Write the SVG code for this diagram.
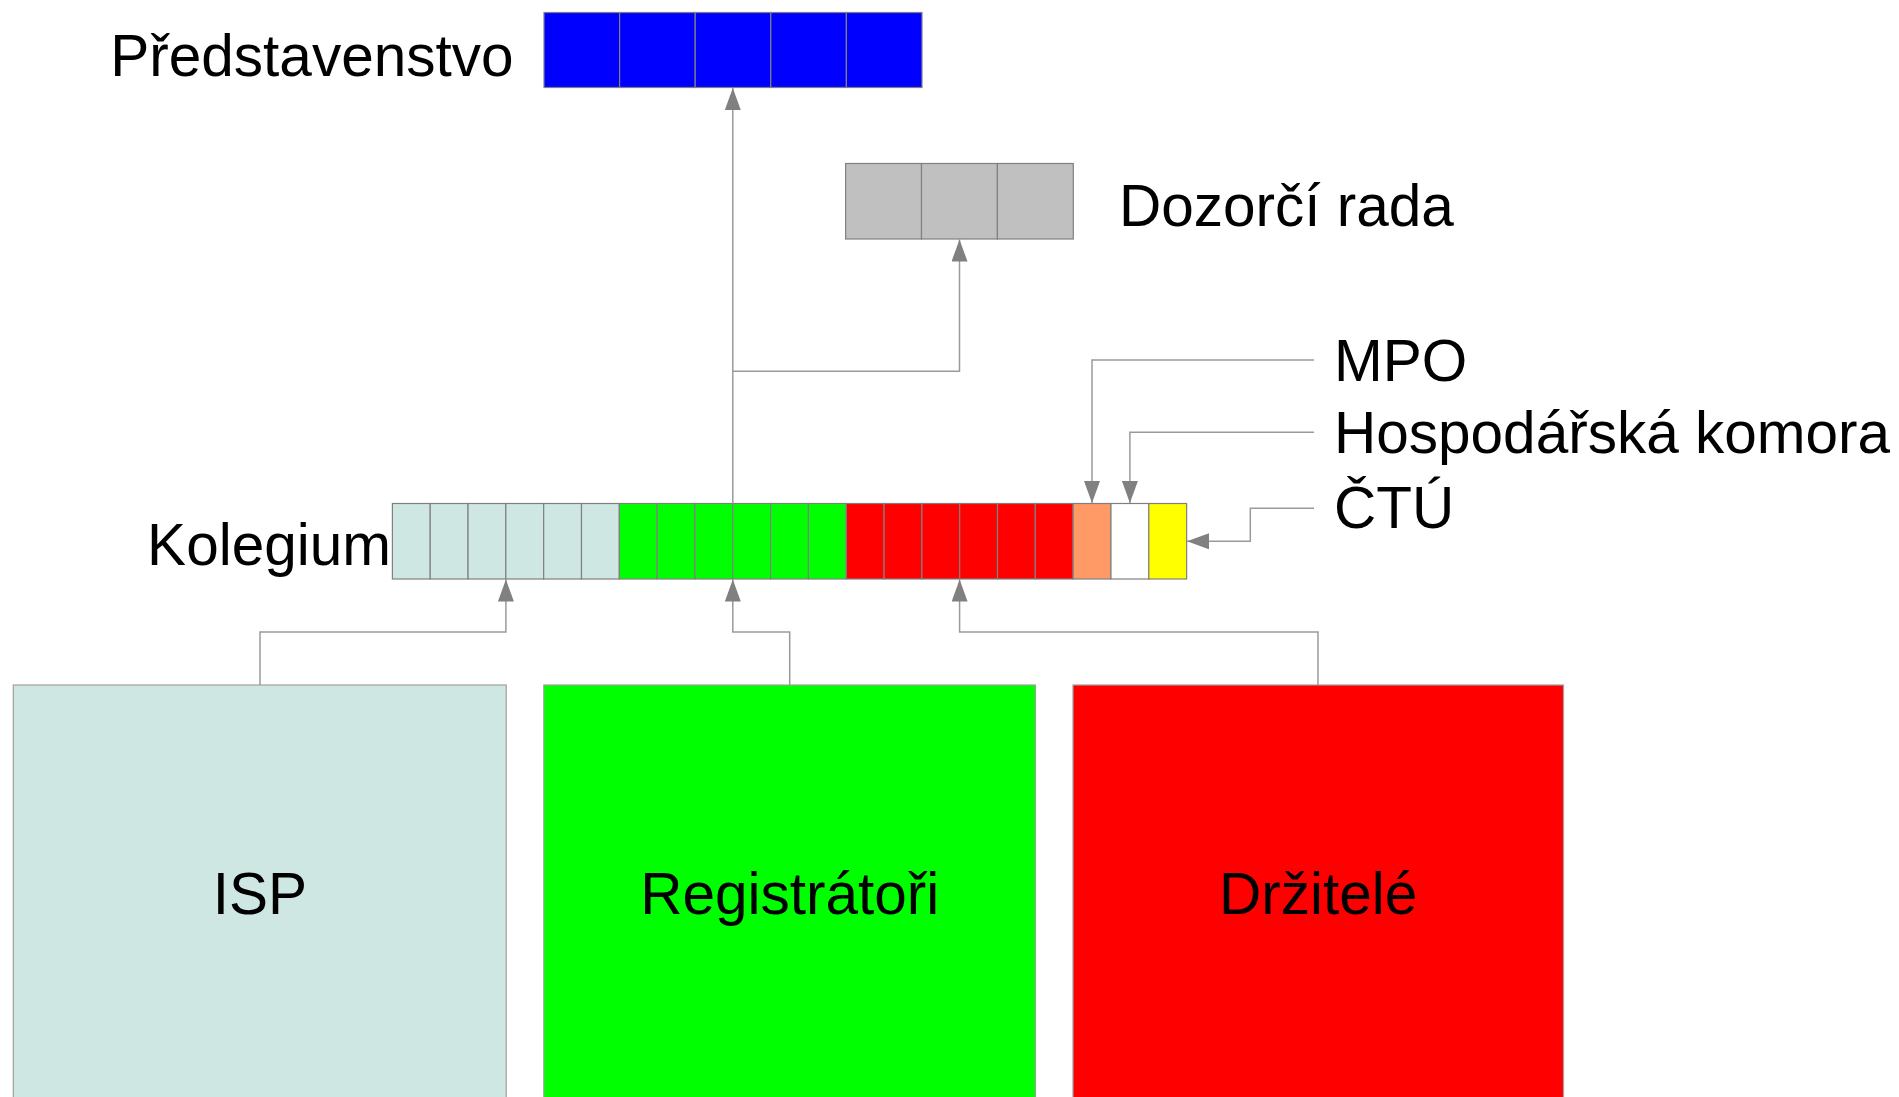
<svg xmlns="http://www.w3.org/2000/svg" width="1899" height="1097" viewBox="0 0 1899 1097">
<style>
text{font-family:"Liberation Sans",Arial,sans-serif;font-size:58.5px;fill:#000}
.c{stroke:#808080;stroke-width:1.2}
.big{stroke:#a0a0a0;stroke-width:1.2}
.con{fill:none;stroke:#9a9a9a;stroke-width:1.5}
.mid{text-anchor:middle}
.end{text-anchor:end}
</style>
<defs>
<marker id="ah" markerUnits="userSpaceOnUse" markerWidth="23" markerHeight="16" refX="22" refY="8" orient="auto" viewBox="0 0 23 16">
<path d="M0,0 L22,8 L0,16 z" fill="#808080"/>
</marker>
</defs>
<rect width="1899" height="1097" fill="#fff"/>

<g id="predstavenstvo">
<rect class="c" x="544" y="12.5" width="75.6" height="75" fill="#0000ff"/>
<rect class="c" x="619.6" y="12.5" width="75.6" height="75" fill="#0000ff"/>
<rect class="c" x="695.2" y="12.5" width="75.6" height="75" fill="#0000ff"/>
<rect class="c" x="770.8" y="12.5" width="75.6" height="75" fill="#0000ff"/>
<rect class="c" x="846.4" y="12.5" width="75.6" height="75" fill="#0000ff"/>
<text class="end" x="513.5" y="76">Představenstvo</text>
</g>

<g id="dozorci-rada">
<rect class="c" x="845.6" y="163.5" width="75.9" height="75.5" fill="#c0c0c0"/>
<rect class="c" x="921.5" y="163.5" width="75.9" height="75.5" fill="#c0c0c0"/>
<rect class="c" x="997.4" y="163.5" width="75.9" height="75.5" fill="#c0c0c0"/>
<text x="1119" y="226">Dozorčí rada</text>
</g>

<g id="kolegium">
<rect class="c" x="392.4" y="503.5" width="37.82" height="75.5" fill="#cfe7e3"/>
<rect class="c" x="430.22" y="503.5" width="37.82" height="75.5" fill="#cfe7e3"/>
<rect class="c" x="468.04" y="503.5" width="37.82" height="75.5" fill="#cfe7e3"/>
<rect class="c" x="505.86" y="503.5" width="37.82" height="75.5" fill="#cfe7e3"/>
<rect class="c" x="543.68" y="503.5" width="37.82" height="75.5" fill="#cfe7e3"/>
<rect class="c" x="581.5" y="503.5" width="37.82" height="75.5" fill="#cfe7e3"/>
<rect class="c" x="619.32" y="503.5" width="37.82" height="75.5" fill="#00ff00"/>
<rect class="c" x="657.14" y="503.5" width="37.82" height="75.5" fill="#00ff00"/>
<rect class="c" x="694.96" y="503.5" width="37.82" height="75.5" fill="#00ff00"/>
<rect class="c" x="732.78" y="503.5" width="37.82" height="75.5" fill="#00ff00"/>
<rect class="c" x="770.6" y="503.5" width="37.82" height="75.5" fill="#00ff00"/>
<rect class="c" x="808.42" y="503.5" width="37.82" height="75.5" fill="#00ff00"/>
<rect class="c" x="846.24" y="503.5" width="37.82" height="75.5" fill="#ff0000"/>
<rect class="c" x="884.06" y="503.5" width="37.82" height="75.5" fill="#ff0000"/>
<rect class="c" x="921.88" y="503.5" width="37.82" height="75.5" fill="#ff0000"/>
<rect class="c" x="959.7" y="503.5" width="37.82" height="75.5" fill="#ff0000"/>
<rect class="c" x="997.52" y="503.5" width="37.82" height="75.5" fill="#ff0000"/>
<rect class="c" x="1035.34" y="503.5" width="37.82" height="75.5" fill="#ff0000"/>
<rect class="c" x="1073.16" y="503.5" width="37.82" height="75.5" fill="#ff9966"/>
<rect class="c" x="1110.98" y="503.5" width="37.82" height="75.5" fill="#ffffff"/>
<rect class="c" x="1148.8" y="503.5" width="37.82" height="75.5" fill="#ffff00"/>
<text class="end" x="391" y="565">Kolegium</text>
</g>

<g id="mpo"><text x="1334" y="381">MPO</text></g>
<g id="hospodarska-komora"><text x="1334" y="453">Hospodářská komora</text></g>
<g id="ctu"><text x="1334" y="528">ČTÚ</text></g>

<g id="isp">
<rect class="big" x="13.3" y="685" width="492.9" height="430" fill="#cfe7e3"/>
<text class="mid" x="259.8" y="914">ISP</text>
</g>
<g id="registratori">
<rect class="big" x="543.8" y="685" width="491.7" height="430" fill="#00ff00"/>
<text class="mid" x="789.7" y="914">Registrátoři</text>
</g>
<g id="drzitele">
<rect class="big" x="1073" y="685" width="490.5" height="430" fill="#ff0000"/>
<text class="mid" x="1318.2" y="914">Držitelé</text>
</g>

<g id="connectors">
<path class="con" d="M732.8,503.5 V88" marker-end="url(#ah)"/>
<path class="con" d="M732.8,371.3 H959.5 V239.5" marker-end="url(#ah)"/>
<path class="con" d="M260,685 V632 H505.9 V579.5" marker-end="url(#ah)"/>
<path class="con" d="M789.7,685 V632 H732.8 V579.5" marker-end="url(#ah)"/>
<path class="con" d="M1318,685 V632 H959.6 V579.5" marker-end="url(#ah)"/>
<path class="con" d="M1314,360 H1092 V503" marker-end="url(#ah)"/>
<path class="con" d="M1314,432.3 H1129.9 V503" marker-end="url(#ah)"/>
<path class="con" d="M1314,508.3 H1250.3 V541.3 H1187" marker-end="url(#ah)"/>
</g>
</svg>
